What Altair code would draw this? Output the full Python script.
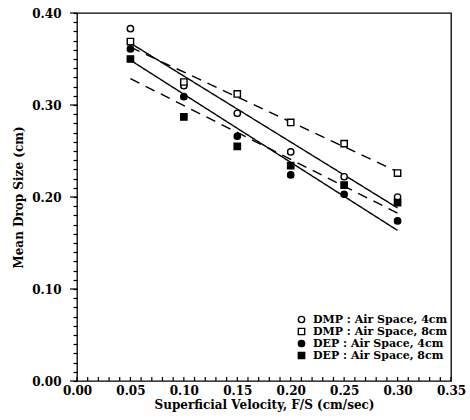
import altair as alt
import pandas as pd

# Superficial velocity, F/S (cm/sec)
velocity = [0.05, 0.10, 0.15, 0.20, 0.25, 0.30]

# Mean drop size (cm) for each dispersion / air-space setting
dmp_4cm = [0.383, 0.321, 0.291, 0.249, 0.222, 0.200]
dmp_8cm = [0.369, 0.325, 0.312, 0.281, 0.258, 0.226]
dep_4cm = [0.361, 0.309, 0.266, 0.224, 0.203, 0.174]
dep_8cm = [0.350, 0.287, 0.255, 0.234, 0.213, 0.194]

series_names = [
    "DMP : Air Space, 4cm",
    "DMP : Air Space, 8cm",
    "DEP : Air Space, 4cm",
    "DEP : Air Space, 8cm",
]

# tick positions: minor every 0.01, labelled majors
x_ticks = [round(i * 0.01, 2) for i in range(36)]
y_ticks = [round(i * 0.01, 2) for i in range(41)]
y_major = [0.0, 0.1, 0.2, 0.3, 0.4]

rows = []
for name, values in zip(series_names, [dmp_4cm, dmp_8cm, dep_4cm, dep_8cm]):
    for v, d in zip(velocity, values):
        rows.append({"series": name, "velocity": v, "drop": d})
df = pd.DataFrame(rows)
x_tick_df = pd.DataFrame({"tick": x_ticks})
y_major_df = pd.DataFrame({"tick": y_major})

FONT = "DejaVu Serif"
W, H = 374, 368

x_scale = alt.Scale(domain=[0, 0.35], nice=False, zero=False)
y_scale = alt.Scale(domain=[0, 0.40], nice=False)

x_axis = alt.Axis(
    orient="bottom", values=x_ticks,
    labelExpr="round(datum.value * 100) % 5 == 0 ? format(datum.value, '.2f') : ''",
    ticks=False, domain=False, grid=False, labelOverlap=False, labelFlush=False,
    labelPadding=4, labelFont=FONT, labelFontSize=12, labelFontWeight="bold", labelColor="black",
    title="Superficial Velocity, F/S (cm/sec)", titleFont=FONT, titleFontSize=12,
    titleFontWeight="bold", titleColor="black", titlePadding=3,
)
y_axis = alt.Axis(
    orient="left", values=y_ticks,
    labelExpr="round(datum.value * 100) % 10 == 0 ? format(datum.value, '.2f') : ''",
    tickSize=4, tickWidth=1.2, tickColor="black", domain=False, grid=False,
    labelOverlap=False, labelFlush=False, labelPadding=12, labelFont=FONT, labelFontSize=12,
    labelFontWeight="bold", labelColor="black", title="Mean Drop Size (cm)", titleFont=FONT,
    titleFontSize=12, titleFontWeight="bold", titleColor="black", titlePadding=6,
)
legend = alt.Legend(
    orient="none", legendX=219, legendY=301, title=None, padding=0, rowPadding=0,
    clipHeight=11,
    labelFont=FONT, labelFontSize=11, labelFontWeight="bold", labelColor="black",
    labelOffset=6, symbolSize=40, symbolStrokeWidth=1.4, symbolStrokeColor="black",
)

points = alt.Chart(df).mark_point(size=40, strokeWidth=1.4, opacity=1).encode(
    x=alt.X("velocity:Q", scale=x_scale, axis=x_axis),
    y=alt.Y("drop:Q", scale=y_scale, axis=y_axis),
    shape=alt.Shape("series:N", scale=alt.Scale(domain=series_names, range=["circle", "square", "circle", "square"]), legend=legend),
    fill=alt.Fill("series:N", scale=alt.Scale(domain=series_names, range=["white", "white", "black", "black"]), legend=legend),
    stroke=alt.Stroke("series:N", scale=alt.Scale(domain=series_names, range=["black", "black", "black", "black"]), legend=legend),
)

# least-squares fit for each series: solid for 4cm, dashed for 8cm
fits = alt.Chart(df).transform_regression(
    "velocity", "drop", groupby=["series"]
).transform_calculate(
    style="indexof(datum.series, '8cm') >= 0 ? 'dashed' : 'solid'"
).mark_line(color="black", strokeWidth=1.4).encode(
    x=alt.X("velocity:Q", scale=x_scale, axis=x_axis),
    y=alt.Y("drop:Q", scale=y_scale, axis=y_axis),
    strokeDash=alt.StrokeDash("style:N", scale=alt.Scale(domain=["solid", "dashed"], range=[[1, 0], [10, 7]]), legend=None),
    detail="series:N",
)

# inward-pointing ticks along the bottom edge
x_inner_ticks = alt.Chart(x_tick_df).mark_rule(color="black", strokeWidth=1.2).encode(
    x=alt.X("tick:Q", scale=x_scale, axis=x_axis), y=alt.value(H), y2=alt.value(H - 4),
)

# longer outward ticks at the labelled y values
y_major_ticks = alt.Chart(y_major_df).mark_rule(color="black", strokeWidth=1.2).encode(
    y=alt.Y("tick:Q", scale=y_scale, axis=y_axis), x=alt.value(-7), x2=alt.value(0),
)

chart = (
    alt.layer(fits, points, x_inner_ticks, y_major_ticks)
    .properties(width=W, height=H, autosize=alt.AutoSizeParams(type="none"),
                padding={"left": 77, "top": 13, "right": 470 - 77 - W, "bottom": 420 - 13 - H},
                background="white")
    .configure_view(stroke="black", strokeWidth=1.3)
)

chart.save("out.html", embed_options={"renderer": "svg", "actions": False})
